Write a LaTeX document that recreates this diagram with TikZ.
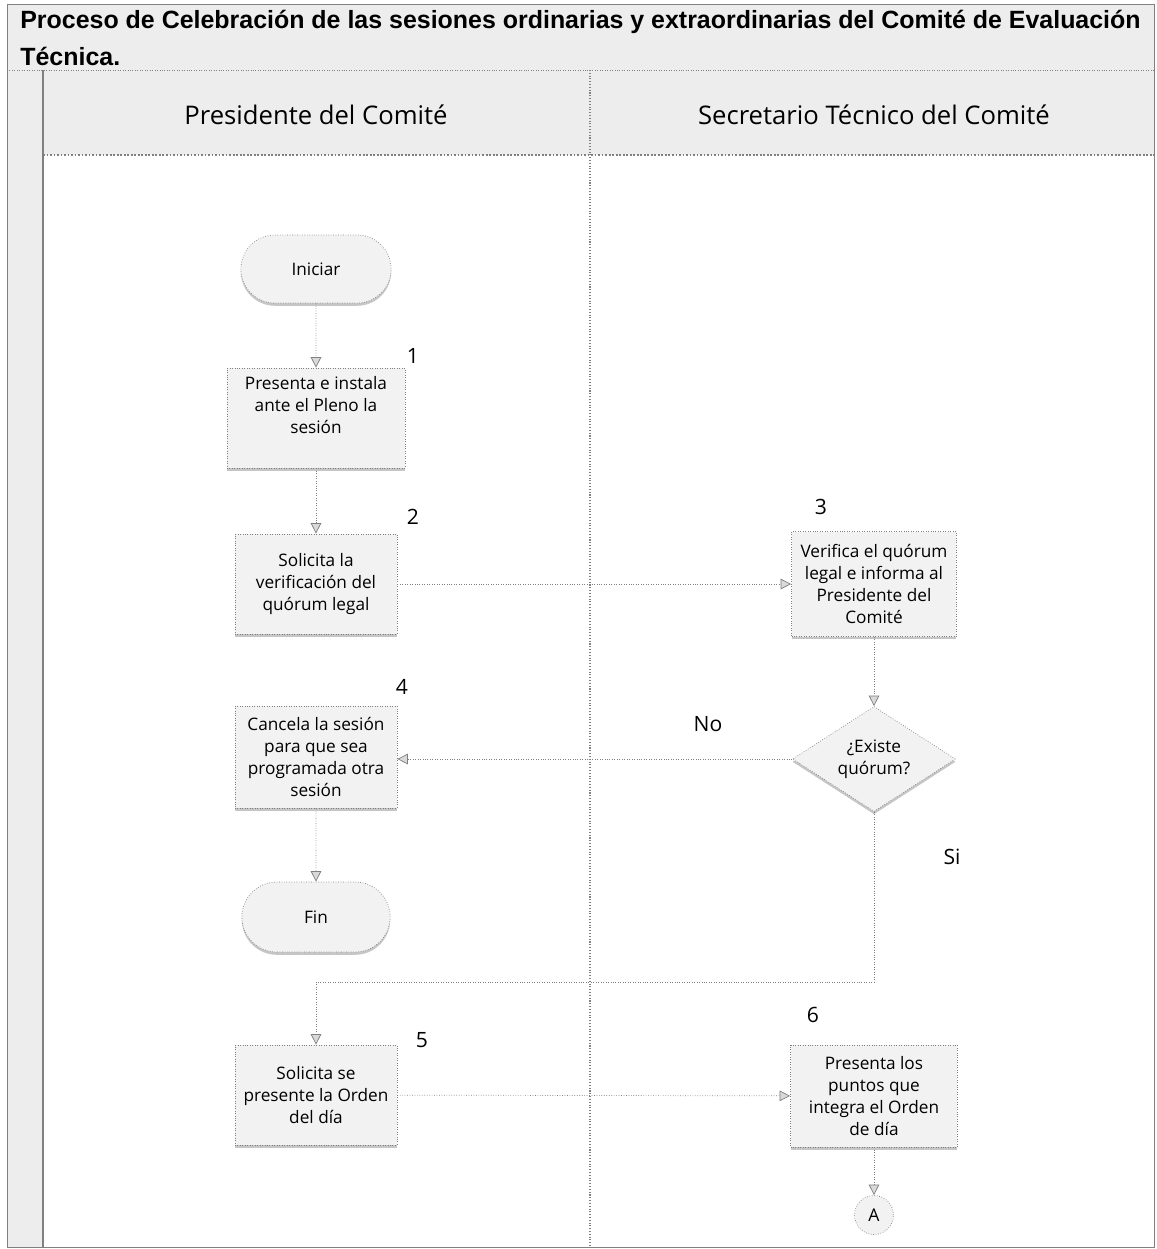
\documentclass[tikz,border=0pt]{standalone}
\usepackage{fontspec}
\setmainfont{Open Sans}
\newfontfamily\titlefont{Liberation Sans}
\usepackage{tikz}
\usetikzlibrary{arrows.meta,shapes.geometric,shapes.misc,shadows}
\tikzset{>=Stealth}
\usepackage{xcolor}
\definecolor{linea}{gray}{0.5}
\definecolor{fondo}{gray}{0.95}
\definecolor{banda}{gray}{0.93}
\tikzset{
  sombra/.style={drop shadow={shadow xshift=0pt, shadow yshift=-1.6pt, fill=gray!45, opacity=1}},
  paso/.style={draw=linea, densely dotted, fill=fondo, sombra, minimum width=3.24cm,
    minimum height=2cm, align=center, inner sep=2pt, font=\fontsize{9.8}{12.5}\selectfont},
  termino/.style={rounded rectangle, draw=linea, densely dotted, fill=fondo, sombra,
    minimum width=3.24cm, minimum height=1.36cm, font=\fontsize{9.8}{12.5}\selectfont},
  decision/.style={diamond, draw=linea, densely dotted, fill=fondo, sombra, aspect=1.55,
    minimum width=3.26cm, minimum height=2.1cm, inner sep=0pt, align=center,
    font=\fontsize{9.8}{12.5}\selectfont},
  conector/.style={circle, draw=linea, densely dotted, fill=fondo, minimum size=0.78cm,
    inner sep=0pt, font=\fontsize{10}{12}\selectfont},
  flujo/.style={draw=linea, densely dotted, -{Triangle[length=6pt, width=6pt, fill=gray!30]}},
  numero/.style={font=\fontsize{12}{14}\selectfont},
  carril/.style={font=\fontsize{14.6}{17}\selectfont},
}

\begin{document}
\begin{tikzpicture}[x=0.02cm, y=-0.02cm]
  \useasboundingbox (0,0) rectangle (1157,1249);
  % bandas de fondo
  \fill[banda] (7,4) rectangle (1154,70);
  \fill[banda] (7,70) rectangle (43,1247);
  \fill[banda] (43,70) rectangle (1154,155);
  \draw[linea] (7,4) rectangle (1154,1247);
  \draw[linea, densely dotted] (7,70) -- (1154,70);
  \draw[linea, semithick] (43,70) -- (43,1247);
  \draw[linea, semithick, densely dotted] (590,70) -- (590,1247);
  \draw[linea, thick, dash pattern=on 1pt off 1pt] (43,155) -- (1154,155);
  % titulo
  \node[anchor=north west, align=left, inner sep=0pt,
        font=\titlefont\bfseries\fontsize{14.2}{20.8}\selectfont] (tit) at (20,10)
    {Proceso de Celebración de las sesiones ordinarias y extraordinarias del Comité de Evaluación\\Técnica.};
  % carriles
  \node[carril] (cpres) at (316,115) {Presidente del Comité};
  \node[carril] (csec) at (874,115) {Secretario Técnico del Comité};
  % Presidente
  \node[termino] (ini) at (316,269) {Iniciar};
  \node[paso, minimum width=3.56cm, text depth=15pt] (p1) at (316,418) {Presenta e instala\\ante el Pleno la\\sesión};
  \node[paso] (p2) at (316,584) {Solicita la\\verificación del\\quórum legal};
  \node[paso, minimum height=2.04cm] (p4) at (316,757) {Cancela la sesión\\para que sea\\programada otra\\sesión};
  \node[termino, minimum width=3.2cm, minimum height=1.4cm] (fin) at (316,917) {Fin};
  \node[paso] (p5) at (316,1095) {Solicita se\\presente la Orden\\del día};
  % Secretario
  \node[paso, minimum width=3.3cm, minimum height=2.1cm] (p3) at (874,584)
    {Verifica el quórum\\legal e informa al\\Presidente del\\Comité};
  \node[decision] (dq) at (874,759) {¿Existe\\quórum?};
  \node[paso, minimum width=3.34cm, minimum height=2.04cm] (p6) at (874,1096)
    {Presenta los\\puntos que\\integra el Orden\\de día};
  \node[conector] (ca) at (874,1215) {A};
  % numeros de paso
  \node[numero] (k1) at (413,356) {1};
  \node[numero] (k2) at (413,517) {2};
  \node[numero] (k3) at (821,507) {3};
  \node[numero] (k4) at (402,687) {4};
  \node[numero] (k5) at (422,1040) {5};
  \node[numero] (k6) at (813,1015) {6};
  \node[numero] (eno) at (708,724) {No};
  \node[numero] (esi) at (952,857) {Si};
  % flujo
  \coordinate (codo) at (874,982);
  \draw[flujo] (ini) -- (p1);
  \draw[flujo] (p1) -- (p2);
  \draw[flujo] (p2) -- (p3);
  \draw[flujo] (p3) -- (dq);
  \draw[flujo] (dq) -- (dq -| p4.east);
  \draw[flujo] (p4) -- (fin);
  \draw[flujo] (dq.south) -- (codo) -| (p5.north);
  \draw[flujo] (p5) -- (p6);
  \draw[flujo] (p6) -- (ca);
\end{tikzpicture}
\end{document}
